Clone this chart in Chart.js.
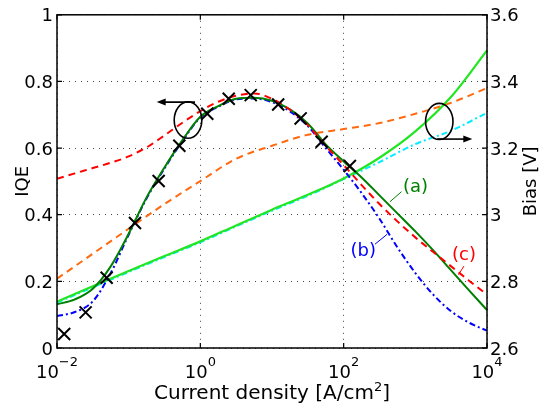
<!DOCTYPE html>
<html>
<head>
<meta charset="utf-8">
<script src="https://cdn.jsdelivr.net/npm/chart.js@4.4.1/dist/chart.umd.min.js"></script>
<style>
  html, body { margin: 0; padding: 0; background: #fff; }
  #wrap { width: 539px; height: 408px; }
</style>
</head>
<body>
<div id="wrap"><canvas id="chart" width="539" height="408"></canvas></div>
<script>
// Current density grid (A/cm^2) for the IQE model curves
const currentDensity = [0.01, 0.0178, 0.0316, 0.0562, 0.1, 0.178, 0.316, 0.562, 1, 1.78, 3.16, 5.62,
  10, 17.8, 31.6, 56.2, 100, 178, 316, 562, 1000, 1780, 3160, 5620, 10000];
// IQE models (a), (b), (c)
const iqeModelA = [0.131, 0.146, 0.178, 0.245, 0.343, 0.452, 0.542, 0.624, 0.694, 0.726, 0.748, 0.751,
  0.742, 0.716, 0.674, 0.611, 0.560, 0.512, 0.458, 0.404, 0.350, 0.293, 0.233, 0.173, 0.114];
const iqeModelB = [0.096, 0.108, 0.140, 0.225, 0.340, 0.449, 0.539, 0.621, 0.692, 0.724, 0.746, 0.749,
  0.738, 0.710, 0.666, 0.600, 0.535, 0.465, 0.388, 0.302, 0.225, 0.160, 0.110, 0.076, 0.052];
const iqeModelC = [0.508, 0.524, 0.540, 0.556, 0.575, 0.602, 0.638, 0.676, 0.711, 0.739, 0.757, 0.764,
  0.748, 0.715, 0.669, 0.607, 0.549, 0.489, 0.432, 0.380, 0.332, 0.288, 0.245, 0.202, 0.160];

// Measured IQE
const measuredCurrent = [0.0126, 0.0251, 0.0493, 0.1225, 0.262, 0.509, 1.25, 2.49, 5.05, 12.2, 25.1, 49.3, 122];
const measuredIqe = [0.042, 0.107, 0.211, 0.375, 0.501, 0.607, 0.703, 0.748, 0.759, 0.731, 0.689, 0.619, 0.546];

// Bias voltage curves (right axis)
const biasCurrent = [0.01, 0.0316, 0.1, 0.316, 1, 3.16, 10, 31.6, 100, 316, 1000, 3160, 10000];
const biasModelA = [2.739, 2.785, 2.831, 2.876, 2.920, 2.968, 3.015, 3.060, 3.109, 3.171, 3.250, 3.354, 3.493];
const biasModelB = [2.736, 2.782, 2.828, 2.873, 2.917, 2.965, 3.012, 3.057, 3.107, 3.158, 3.212, 3.252, 3.306];
const biasModelC = [2.808, 2.883, 2.958, 3.032, 3.101, 3.168, 3.207, 3.240, 3.257, 3.275, 3.303, 3.336, 3.380];

// Axis ticks
const decadeTicks = [0.01, 1, 100, 10000];
const decadeExponents = ['\u22122', '0', '2', '4'];
const iqeTicks = [0, 0.2, 0.4, 0.6, 0.8, 1];
const biasTicks = [2.6, 2.8, 3.0, 3.2, 3.4, 3.6];

const FONT = 'DejaVu Sans';
const pts = (xs, ys) => xs.map((x, i) => ({ x, y: ys[i] }));

function curve(label, xs, ys, color, dash, axis, order, width) {
  return {
    label, data: pts(xs, ys), yAxisID: axis, order,
    borderColor: color, backgroundColor: color, borderWidth: width || 2,
    borderDash: dash, pointRadius: 0, fill: false,
    cubicInterpolationMode: 'monotone'
  };
}

// Box, inward tick marks, tick labels with exponents, axis titles, annotations
const framePlugin = {
  id: 'frame',
  afterDatasetsDraw(chart) {
    const { ctx, scales: { x, y, yBias } } = chart;
    const px = v => x.getPixelForValue(v);
    const py = v => y.getPixelForValue(v);
    const pb = v => yBias.getPixelForValue(v);
    ctx.save();
    // grouping ellipses with arrows
    ctx.strokeStyle = '#000'; ctx.fillStyle = '#000'; ctx.lineWidth = 1.6;
    const ellipse = (cx, cy, rx, ry) => {
      ctx.beginPath(); ctx.ellipse(cx, cy, rx, ry, 0, 0, Math.PI * 2); ctx.stroke();
    };
    const arrow = (x0, yy, x1) => {
      const dir = Math.sign(x1 - x0);
      ctx.beginPath(); ctx.moveTo(x0, yy); ctx.lineTo(x1 - dir * 7, yy); ctx.stroke();
      ctx.beginPath(); ctx.moveTo(x1, yy); ctx.lineTo(x1 - dir * 9, yy - 3.5);
      ctx.lineTo(x1 - dir * 9, yy + 3.5); ctx.closePath(); ctx.fill();
    };
    ellipse(px(0.673), py(0.684), 13.8, 18.2);
    arrow(px(0.843), py(0.738), px(0.246));
    ellipse(px(2158), pb(3.280), 13.7, 18);
    arrow(px(2023), pb(3.227), px(6237));

    // curve labels with leader lines
    ctx.font = '18px "' + FONT + '"';
    ctx.textBaseline = 'alphabetic';
    ctx.lineWidth = 1;
    const leader = (color, x0, y0, x1, y1) => {
      ctx.strokeStyle = color; ctx.beginPath();
      ctx.moveTo(px(x0), py(y0)); ctx.lineTo(px(x1), py(y1)); ctx.stroke();
    };
    leader('#008000', 641, 0.469, 443, 0.439);
    ctx.fillStyle = '#008000'; ctx.textAlign = 'left';
    ctx.fillText('(a)', px(641) + 1.5, py(0.469) + 0.5);
    leader('#0000ff', 273.6, 0.3116, 402.6, 0.341);
    ctx.fillStyle = '#0000ff'; ctx.textAlign = 'right';
    ctx.fillText('(b)', px(273.6) + 1, py(0.3116) + 11.5);
    leader('#ff0000', 4775, 0.246, 4000, 0.220);
    ctx.fillStyle = '#ff0000'; ctx.textAlign = 'center';
    ctx.fillText('(c)', px(4775), py(0.246) - 6.5);
    ctx.restore();
  },
  afterDraw(chart) {
    const { ctx, chartArea: a, scales: { x, y, yBias } } = chart;
    ctx.save();
    ctx.strokeStyle = '#000';
    ctx.lineWidth = 1.5;
    ctx.strokeRect(a.left, a.top, a.right - a.left, a.bottom - a.top);

    // inward tick marks
    ctx.lineWidth = 1.2;
    ctx.beginPath();
    decadeTicks.forEach(v => {
      const p = x.getPixelForValue(v);
      ctx.moveTo(p, a.bottom); ctx.lineTo(p, a.bottom - 5);
      ctx.moveTo(p, a.top); ctx.lineTo(p, a.top + 5);
    });
    iqeTicks.forEach(v => {
      const p = y.getPixelForValue(v);
      ctx.moveTo(a.left, p); ctx.lineTo(a.left + 5, p);
    });
    biasTicks.forEach(v => {
      const p = yBias.getPixelForValue(v);
      ctx.moveTo(a.right, p); ctx.lineTo(a.right - 5, p);
    });
    ctx.stroke();

    // x tick labels: 10 with raised exponent
    ctx.fillStyle = '#000';
    ctx.textBaseline = 'alphabetic';
    ctx.textAlign = 'left';
    decadeTicks.forEach((v, i) => {
      const p = x.getPixelForValue(v);
      ctx.font = '18px "' + FONT + '"';
      const wBase = ctx.measureText('10').width;
      ctx.font = '13px "' + FONT + '"';
      const wExp = ctx.measureText(decadeExponents[i]).width;
      const x0 = p - (wBase + wExp) / 2;
      ctx.font = '18px "' + FONT + '"';
      ctx.fillText('10', x0, 378);
      ctx.font = '13px "' + FONT + '"';
      ctx.fillText(decadeExponents[i], x0 + wBase, 366);
    });

    // x axis title with superscript
    const t1 = 'Current density [A/cm', t2 = '2', t3 = ']';
    ctx.font = '20px "' + FONT + '"';
    const w1 = ctx.measureText(t1).width, w3 = ctx.measureText(t3).width;
    ctx.font = '13px "' + FONT + '"';
    const w2 = ctx.measureText(t2).width;
    let tx = (a.left + a.right) / 2 - (w1 + w2 + w3) / 2;
    ctx.font = '20px "' + FONT + '"';
    ctx.fillText(t1, tx, 399);
    ctx.font = '13px "' + FONT + '"';
    ctx.fillText(t2, tx + w1, 391);
    ctx.font = '20px "' + FONT + '"';
    ctx.fillText(t3, tx + w1 + w2, 399);

    // vertical axis titles
    ctx.font = '18px "' + FONT + '"';
    const midY = (a.top + a.bottom) / 2;
    ctx.textAlign = 'center';
    ctx.save(); ctx.translate(28, midY); ctx.rotate(-Math.PI / 2);
    ctx.fillText('IQE', 0, 0); ctx.restore();
    ctx.save(); ctx.translate(536, midY); ctx.rotate(-Math.PI / 2);
    ctx.fillText('Bias [V]', 0, 0); ctx.restore();
    ctx.restore();
  }
};

const dottedGrid = { color: '#444', lineWidth: 1, drawTicks: false };

new Chart(document.getElementById('chart'), {
  type: 'line',
  data: {
    datasets: [
      {
        label: 'Measured', data: pts(measuredCurrent, measuredIqe), yAxisID: 'y', order: 0,
        showLine: false, pointStyle: 'crossRot', pointRadius: 8.5, pointBorderWidth: 2,
        borderColor: '#000', backgroundColor: '#000'
      },
      curve('(a)', currentDensity, iqeModelA, '#008000', [], 'y', 2, 2),
      curve('(c)', currentDensity, iqeModelC, '#ff0000', [7, 5], 'y', 1, 2),
      curve('(b)', currentDensity, iqeModelB, '#0000ff', [6, 3, 2, 3], 'y', 3, 2),
      curve('Bias (a)', biasCurrent, biasModelA, '#22e622', [], 'yBias', 4, 2.2),
      curve('Bias (b)', biasCurrent, biasModelB, '#00eeff', [6, 3, 2, 3], 'yBias', 5, 2),
      curve('Bias (c)', biasCurrent, biasModelC, '#ff6a10', [7, 5], 'yBias', 6, 2)
    ]
  },
  options: {
    responsive: false,
    animation: false,
    devicePixelRatio: 1,
    layout: { padding: { top: 11, left: 0, right: 0, bottom: 0 } },
    plugins: { legend: { display: false }, tooltip: { enabled: false } },
    scales: {
      x: {
        type: 'logarithmic', min: 0.01, max: 10000,
        afterBuildTicks: s => { s.ticks = decadeTicks.map(v => ({ value: v })); },
        afterFit: s => { s.height = 60; },
        ticks: { display: false },
        border: { display: false, dash: [1, 5] },
        grid: dottedGrid
      },
      y: {
        type: 'linear', position: 'left', min: 0, max: 1,
        afterBuildTicks: s => { s.ticks = iqeTicks.map(v => ({ value: v })); },
        afterFit: s => { s.width = 57; },
        ticks: {
          padding: 4, labelOffset: 2, color: '#000',
          font: { family: FONT, size: 18 },
          callback: v => String(+Number(v).toFixed(1))
        },
        border: { display: false, dash: [1, 5] },
        grid: dottedGrid
      },
      yBias: {
        type: 'linear', position: 'right', min: 2.6, max: 3.6,
        afterBuildTicks: s => { s.ticks = biasTicks.map(v => ({ value: v })); },
        afterFit: s => { s.width = 52; },
        ticks: {
          padding: 3, labelOffset: 2, color: '#000',
          font: { family: FONT, size: 18 },
          callback: v => String(+Number(v).toFixed(1))
        },
        border: { display: false },
        grid: { display: false, drawTicks: false }
      }
    }
  },
  plugins: [framePlugin]
});
</script>
</body>
</html>
